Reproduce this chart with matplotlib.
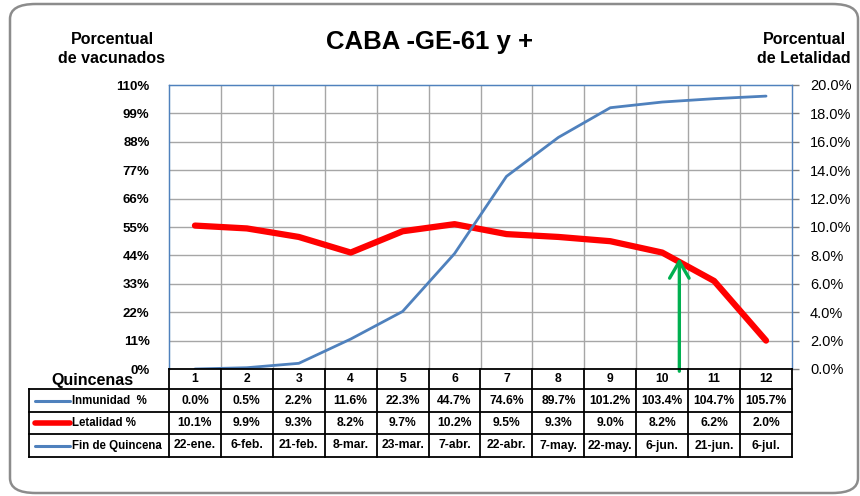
import matplotlib
matplotlib.use('Agg')
import matplotlib.pyplot as plt
from matplotlib.patches import FancyBboxPatch
from matplotlib.lines import Line2D

quincenas = list(range(1, 13))
inmunidad = [0.0, 0.5, 2.2, 11.6, 22.3, 44.7, 74.6, 89.7, 101.2, 103.4, 104.7, 105.7]
letalidad = [10.1, 9.9, 9.3, 8.2, 9.7, 10.2, 9.5, 9.3, 9.0, 8.2, 6.2, 2.0]
fechas = ['22-ene.', '6-feb.', '21-feb.', '8-mar.', '23-mar.', '7-abr.', '22-abr.',
          '7-may.', '22-may.', '6-jun.', '21-jun.', '6-jul.']
left_ticks = [0, 11, 22, 33, 44, 55, 66, 77, 88, 99, 110]
right_ticks = [0, 2, 4, 6, 8, 10, 12, 14, 16, 18, 20]
flecha_x = 10.33
flecha_y = 8.0

FONT = ['Liberation Sans', 'DejaVu Sans']
plt.rcParams['font.family'] = FONT

BLUE = '#4F81BD'
RED = '#FF0000'
GREEN = '#00B050'
GRID = '#A6A6A6'

W, H = 860, 496
fig = plt.figure(figsize=(W / 100, H / 100), dpi=100)

def fx(px):
    return px / W

def fy(py):
    return 1 - py / H

# outer rounded frame
frame = FancyBboxPatch((fx(10), fy(493)), fx(848), (493 - 4) / H,
                       boxstyle='round,pad=0,rounding_size=0.03',
                       transform=fig.transFigure, fill=False,
                       edgecolor='#8C8C8C', linewidth=1.8)
fig.patches.append(frame)

ax = fig.add_axes([fx(169), fy(369), 623 / W, 284 / H])
ax2 = ax.twinx()
ax.set_zorder(ax2.get_zorder() + 1)
ax.patch.set_visible(False)

ax.set_xlim(0.5, 12.5)
ax.set_ylim(0, 110)
ax2.set_ylim(0, 20)

# grid on ax2 (beneath)
for i in range(1, 12):
    ax2.axvline(i + 0.5, color=GRID, lw=1.0, zorder=0)
for t in right_ticks[1:-1]:
    ax2.axhline(t, color=GRID, lw=1.0, zorder=0)

ax2.plot(quincenas, letalidad, color=RED, lw=4.5, solid_capstyle='round',
         solid_joinstyle='round', zorder=3)
ax.plot(quincenas, inmunidad, color=BLUE, lw=2.0, solid_capstyle='round', zorder=3)

ax2.annotate('', xy=(flecha_x, flecha_y), xytext=(flecha_x, -0.35),
             xycoords='data', textcoords='data', annotation_clip=False,
             arrowprops=dict(arrowstyle='->,head_length=1.2,head_width=0.7',
                             color=GREEN, lw=2.4), zorder=5)

ax.set_xticks([])
ax.set_yticks(left_ticks)
ax.set_yticklabels([f'{t}%' for t in left_ticks], fontsize=9.5, fontweight='bold')
ax.tick_params(axis='y', length=0, pad=14)
ax2.set_yticks(right_ticks)
ax2.set_yticklabels([f'{t:.1f}%' for t in right_ticks], fontsize=10.5)
ax2.tick_params(axis='y', length=5, width=1, color='#808080', pad=8)

for a in (ax, ax2):
    for s in a.spines.values():
        s.set_color(BLUE)
        s.set_linewidth(0.9)
    a.spines['bottom'].set_visible(False)
ax2.spines['right'].set_color('#8096B4')

# titles
fig.text(fx(430), fy(42), 'CABA -GE-61 y +', ha='center', va='center',
         fontsize=18.5, fontweight='bold')
fig.text(fx(112), fy(49), 'Porcentual\nde vacunados', ha='center', va='center',
         fontsize=11.5, fontweight='bold', linespacing=1.4)
fig.text(fx(804), fy(49), 'Porcentual\nde Letalidad', ha='center', va='center',
         fontsize=11.5, fontweight='bold', linespacing=1.4)

# data table
fig.canvas.draw()
to_fig = ax.transData + fig.transFigure.inverted()

def dx(x):
    return to_fig.transform((x, 0))[0]

rows_px = [369, 389, 412, 434, 457]
TLW = 1.3
xl, xr = dx(0.5), dx(12.5)
lines = []
lines.append(Line2D([xl, xr], [fy(369), fy(369)]))
for ypx in rows_px[1:]:
    lines.append(Line2D([fx(29), xr], [fy(ypx), fy(ypx)]))
for i in range(13):
    xx = dx(i + 0.5)
    lines.append(Line2D([xx, xx], [fy(369), fy(457)]))
lines.append(Line2D([fx(29), fx(29)], [fy(389), fy(457)]))
for ln in lines:
    ln.set_color('black')
    ln.set_linewidth(TLW)
    ln.set_transform(fig.transFigure)
    fig.lines.append(ln)

def yc(i):
    return fy((rows_px[i] + rows_px[i + 1]) / 2)

TFS = 8.7
for q, v, l, f in zip(quincenas, inmunidad, letalidad, fechas):
    xc = dx(q)
    fig.text(xc, yc(0), str(q), ha='center', va='center', fontsize=TFS, fontweight='bold')
    fig.text(xc, yc(1), f'{v:.1f}%', ha='center', va='center', fontsize=TFS, fontweight='bold')
    fig.text(xc, yc(2), f'{l:.1f}%', ha='center', va='center', fontsize=TFS, fontweight='bold')
    fig.text(xc, yc(3), f, ha='center', va='center', fontsize=TFS, fontweight='bold')

row_labels = ['Inmunidad  %', 'Letalidad %', 'Fin de Quincena']
row_colors = [BLUE, RED, BLUE]
row_lw = [2.2, 4.0, 2.2]
for i, (lab, c, lw) in enumerate(zip(row_labels, row_colors, row_lw)):
    y = yc(i + 1)
    fig.lines.append(Line2D([fx(35), fx(70)], [y, y], color=c, lw=lw,
                            solid_capstyle='round', transform=fig.transFigure))
    fig.text(fx(72), y, lab, ha='left', va='center', fontsize=8.3, fontweight='bold')

fig.text(fx(92), fy(381), 'Quincenas', ha='center', va='center',
         fontsize=11.5, fontweight='bold')

fig.savefig('out.png', dpi=100)
